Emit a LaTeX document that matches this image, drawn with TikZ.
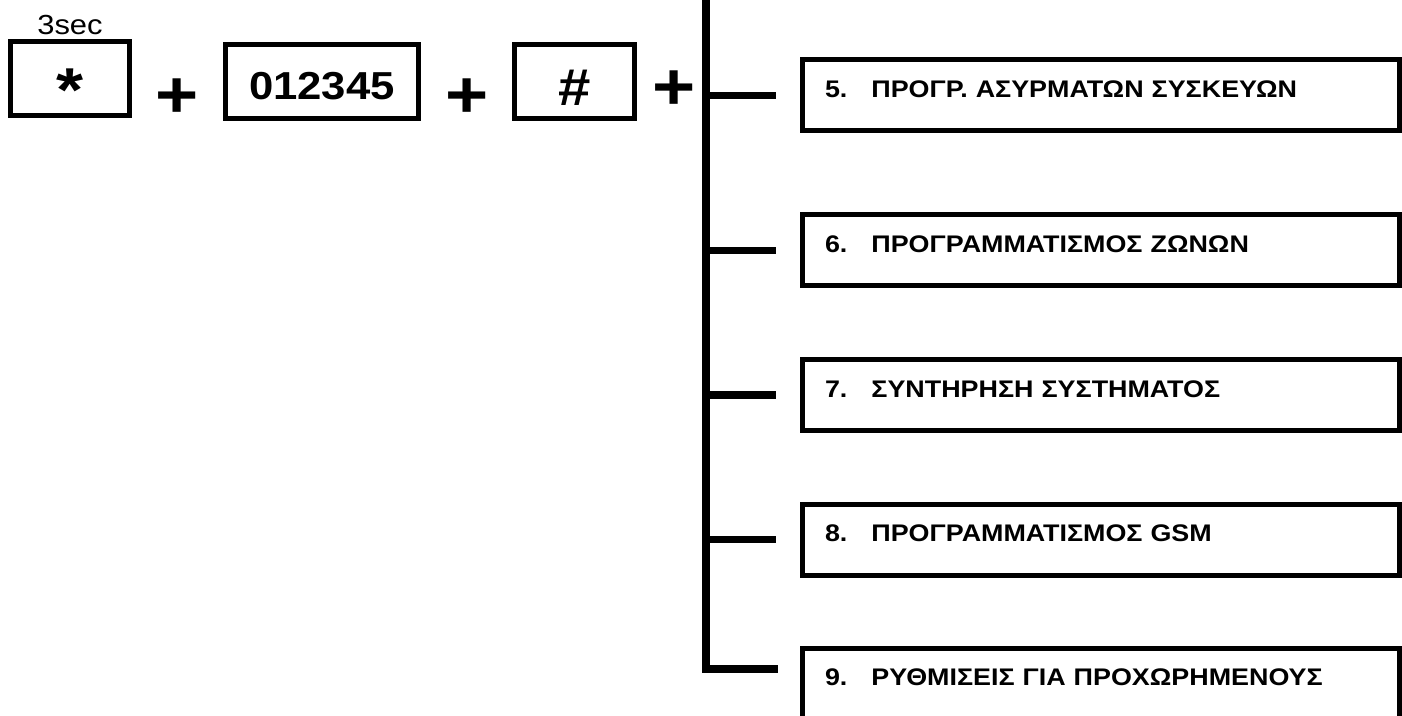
\documentclass[tikz,border=0pt]{standalone}
\usepackage{fontspec}
\setmainfont[FakeStretch=1.12]{Liberation Sans}
\newfontfamily\menufont[FakeStretch=1.12]{Liberation Sans}
\usetikzlibrary{positioning}

\tikzset{
  keybox/.style={draw, line width=2.5pt, inner sep=0pt, minimum height=37pt,
    text height=0pt, text depth=0pt},
  menubox/.style={draw, line width=2.5pt, minimum height=35.5pt, text width=276pt,
    inner xsep=11.25pt, inner ysep=0pt, align=left, text depth=6pt,
    font=\menufont\bfseries\fontsize{12}{14}\selectfont},
  plussign/.style={inner sep=0pt, font=\bfseries\fontsize{33}{33}\selectfont},
  trunk/.style={line width=3.75pt},
}

\begin{document}
\begin{tikzpicture}[x=0.5pt,y=-0.5pt]
\useasboundingbox (0,0) rectangle (1402,716);

% key sequence
\node[keybox, minimum width=59.5pt, font=\bfseries\fontsize{31}{31}\selectfont] (star) at (70,78.5) {\raisebox{-16.75pt}{*}};
\node[above=2pt of star, inner sep=0pt, font=\fontsize{13.8}{14}\selectfont] (hold) {3sec};
\node[plussign] (plusa) at (177,98) {+};
\node[keybox, minimum width=96.5pt, font=\bfseries\fontsize{19.5}{21}\selectfont] (code) at (322,81.5) {\raisebox{-9.25pt}{012345}};
\node[plussign] (plusb) at (467,98) {+};
\node[keybox, minimum width=60pt, font=\bfseries\fontsize{26}{28}\selectfont] (hash) at (574.5,81.5) {\raisebox{-12.25pt}{\#}};
\node[plussign] (plusc) at (674,90) {+};

% menu entries
\node[menubox] (m5) at (1101,95.5) {5.\hspace{12pt}ΠΡΟΓΡ. ΑΣΥΡΜΑΤΩΝ ΣΥΣΚΕΥΩΝ};
\node[menubox] (m6) at (1101,250.5) {6.\hspace{12pt}ΠΡΟΓΡΑΜΜΑΤΙΣΜΟΣ ΖΩΝΩΝ};
\node[menubox] (m7) at (1101,395) {7.\hspace{12pt}ΣΥΝΤΗΡΗΣΗ ΣΥΣΤΗΜΑΤΟΣ};
\node[menubox] (m8) at (1101,539.5) {8.\hspace{12pt}ΠΡΟΓΡΑΜΜΑΤΙΣΜΟΣ GSM};
\node[menubox] (m9) at (1101,683.5) {9.\hspace{12pt}ΡΥΘΜΙΣΕΙΣ ΓΙΑ ΠΡΟΧΩΡΗΜΕΝΟΥΣ};

% trunk and branches
\coordinate (trunktop) at (706,-10);
\coordinate (trunkend) at (778,669);
\draw[trunk] (trunktop) |- (trunkend);
\draw[trunk] (trunktop |- m5.west) -- ([xshift=-12.25pt]m5.west);
\draw[trunk] (trunktop |- m6.west) -- ([xshift=-12.25pt]m6.west);
\draw[trunk] (trunktop |- m7.west) -- ([xshift=-12.25pt]m7.west);
\draw[trunk] (trunktop |- m8.west) -- ([xshift=-12.25pt]m8.west);
\end{tikzpicture}
\end{document}
